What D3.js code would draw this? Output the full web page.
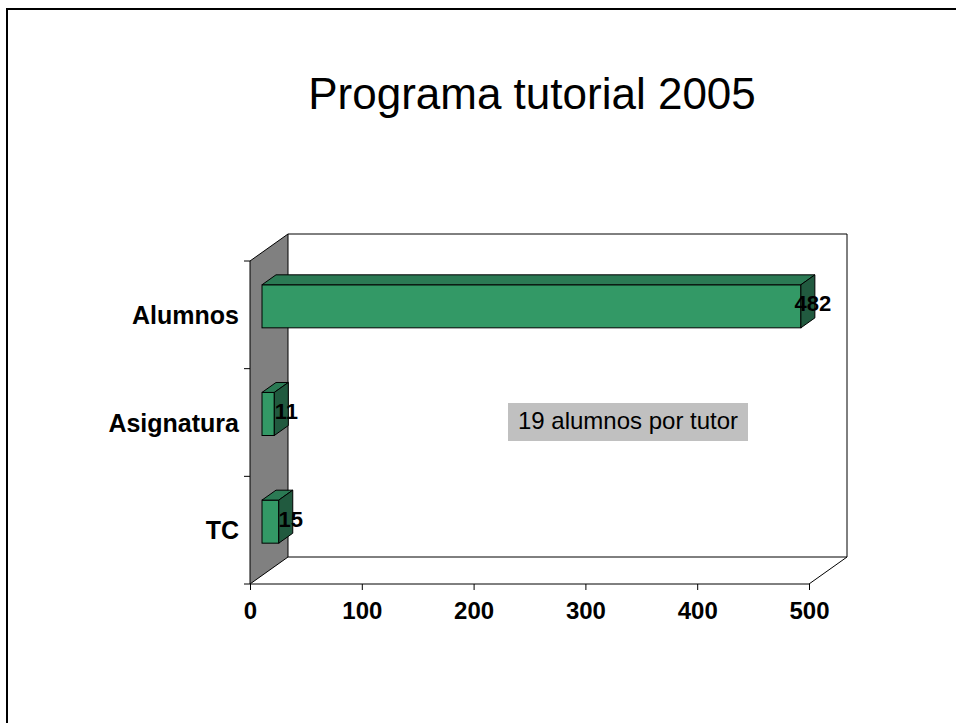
<!DOCTYPE html>
<html>
<head>
<meta charset="utf-8">
<script src="https://cdn.jsdelivr.net/npm/d3@7"></script>
<style>
  body { margin: 0; background: #fff; }
  text { font-family: Arial, "Liberation Sans", sans-serif; }
</style>
</head>
<body>
<div id="chart"></div>
<script>
var categories = ['Alumnos', 'Asignatura', 'TC'];
var values = [482, 11, 15];
var xTicks = [0, 100, 200, 300, 400, 500];
var title = 'Programa tutorial 2005';
var note = '19 alumnos por tutor';

(function () {

  var width = 956, height = 723;

  // front plane of the 3d box and the depth offset towards the back wall
  var left = 250, right = 809, top = 261, bottom = 584;
  var DX = 38, DY = -27;
  var d0 = 0.316, d1 = 0.684;

  var svg = d3.select("#chart")
      .append("svg")
      .attr("width", width)
      .attr("height", height)

  // slide border
  svg.append("rect")
    .attr("x", 7).attr("y", 9)
    .attr("width", width + 20).attr("height", height + 20)
    .attr("fill", "none")
    .attr("stroke", "#000")
    .attr("stroke-width", 2)

  svg.append("text")
    .attr("x", 532)
    .attr("y", 109)
    .attr("text-anchor", "middle")
    .attr("font-size", 44)
    .text(title)

  var xPositionScale = d3.scaleLinear()
    .domain([0, 500])
    .range([left, right])

  var yPositionScale = d3.scaleBand()
    .domain(categories)
    .range([top, bottom])
    .paddingInner(0.6)
    .paddingOuter(0.3)

  var line = function (pts) { return "M" + pts.map(function (p) { return p.join(","); }).join("L") + "Z"; }

  // back wall
  svg.append("rect")
    .attr("x", left + DX).attr("y", top + DY)
    .attr("width", right - left).attr("height", bottom - top)
    .attr("fill", "#fff")
  svg.append("path")
    .attr("d", "M" + (left + DX) + "," + (top + DY) + "H" + (right + DX) + "V" + (bottom + DY) + "H" + (left + DX))
    .attr("fill", "none").attr("stroke", "#000")

  // floor
  svg.append("path")
    .attr("d", "M" + (right + DX) + "," + (bottom + DY) + "L" + right + "," + bottom + "H" + left)
    .attr("fill", "none").attr("stroke", "#000")

  // grey side wall
  svg.append("path")
    .attr("d", line([[left, top], [left + DX, top + DY], [left + DX, bottom + DY], [left, bottom]]))
    .attr("fill", "#808080")
    .attr("stroke", "#000")

  // y ticks at band boundaries
  var step = yPositionScale.step()
  var yTickPos = d3.range(categories.length + 1).map(function (i) { return top + i * step; })
  svg.selectAll(".ytick")
    .data(yTickPos)
    .enter().append("line")
    .attr("x1", left - 6).attr("x2", left)
    .attr("y1", function (d) { return d; }).attr("y2", function (d) { return d; })
    .attr("stroke", "#000")

  svg.selectAll(".ylabel")
    .data(categories)
    .enter().append("text")
    .attr("x", left - 11)
    .attr("y", function (d) { return yPositionScale(d) + yPositionScale.bandwidth() / 2 + 9; })
    .attr("text-anchor", "end")
    .attr("font-size", 25)
    .attr("font-weight", "bold")
    .text(function (d) { return d; })

  // x axis
  var xAxis = d3.axisBottom(xPositionScale)
    .tickValues(xTicks)
    .tickSize(6)
    .tickPadding(12)
  var gx = svg.append("g")
    .attr("transform", "translate(0," + bottom + ")")
    .call(xAxis)
  gx.select(".domain").remove()
  gx.selectAll("text")
    .attr("font-size", 24)
    .attr("font-weight", "bold")
    .attr("font-family", "Arial, 'Liberation Sans', sans-serif")
    .attr("fill", "#000")
  gx.selectAll("line").attr("stroke", "#000")

  // bars
  var data = categories.map(function (c, i) { return { cat: c, value: values[i] }; })
  var dd = d1 - d0
  var bars = svg.selectAll(".bar")
    .data(data)
    .enter().append("g")
    .attr("class", "bar")

  bars.each(function (d) {
    var g = d3.select(this)
    var x0 = xPositionScale(0) + d0 * DX
    var y0 = yPositionScale(d.cat) + d0 * DY
    var w = xPositionScale(d.value) - xPositionScale(0)
    var h = yPositionScale.bandwidth()
    g.append("rect")
      .attr("x", x0).attr("y", y0).attr("width", w).attr("height", h)
      .attr("fill", "#339966").attr("stroke", "#000")
    g.append("path")
      .attr("d", line([[x0, y0], [x0 + w, y0], [x0 + w + dd * DX, y0 + dd * DY], [x0 + dd * DX, y0 + dd * DY]]))
      .attr("fill", "#2b7a54").attr("stroke", "#000")
    g.append("path")
      .attr("d", line([[x0 + w, y0], [x0 + w + dd * DX, y0 + dd * DY], [x0 + w + dd * DX, y0 + h + dd * DY], [x0 + w, y0 + h]]))
      .attr("fill", "#215a3f").attr("stroke", "#000")
  })

  svg.selectAll(".value")
    .data(data)
    .enter().append("text")
    .attr("x", function (d) { return xPositionScale(d.value) + DX / 2 + 5; })
    .attr("y", function (d) { return yPositionScale(d.cat) + yPositionScale.bandwidth() / 2 + DY / 2 + 10; })
    .attr("text-anchor", "middle")
    .attr("font-size", 22)
    .attr("font-weight", "bold")
    .text(function (d) { return d.value; })

  // note box
  var note_g = svg.append("g").attr("transform", "translate(508,403)")
  note_g.append("rect")
    .attr("width", 240).attr("height", 38)
    .attr("fill", "#c0c0c0")
  note_g.append("text")
    .attr("x", 120).attr("y", 26)
    .attr("text-anchor", "middle")
    .attr("font-size", 24)
    .text(note)

})()
</script>
</body>
</html>
